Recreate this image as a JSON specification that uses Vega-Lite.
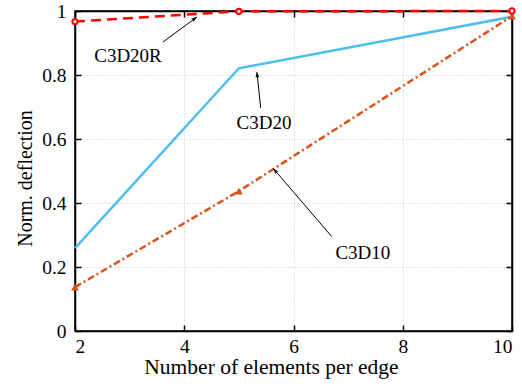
{
  "$schema": "https://vega.github.io/schema/vega-lite/v6.json",
  "width": 437,
  "height": 320,
  "autosize": {"type": "none"},
  "padding": {"left": 75, "top": 11, "right": 10, "bottom": 60},
  "background": "white",
  "config": {
    "view": {"stroke": "black", "strokeWidth": 1.5},
    "font": "Liberation Serif",
    "axis": {
      "labelFont": "Liberation Serif", "titleFont": "Liberation Serif",
      "labelFontSize": 19.5, "titleFontSize": 20, "titleFontWeight": "normal",
      "labelColor": "black", "titleColor": "black",
      "domainColor": "black", "domainWidth": 1.5,
      "tickColor": "black", "tickWidth": 1.5, "tickSize": -6,
      "gridColor": "#c8c8c8", "gridDash": [1, 2], "gridWidth": 1
    }
  },
  "datasets": {
    "series": [
      {"model": "C3D20R", "n": 2, "d": 0.967},
      {"model": "C3D20R", "n": 5, "d": 0.999},
      {"model": "C3D20R", "n": 10, "d": 1.0},
      {"model": "C3D20", "n": 2, "d": 0.259},
      {"model": "C3D20", "n": 5, "d": 0.821},
      {"model": "C3D20", "n": 10, "d": 0.982},
      {"model": "C3D10", "n": 2, "d": 0.137},
      {"model": "C3D10", "n": 5, "d": 0.437},
      {"model": "C3D10", "n": 10, "d": 0.984}
    ],
    "notes": [
      {"label": "C3D20R", "tx": 2.97, "ty": 0.86, "x1": 3.61, "y1": 0.903, "x2": 4.23, "y2": 0.981},
      {"label": "C3D20", "tx": 5.46, "ty": 0.65, "x1": 5.40, "y1": 0.697, "x2": 5.33, "y2": 0.809},
      {"label": "C3D10", "tx": 7.27, "ty": 0.245, "x1": 6.70, "y1": 0.295, "x2": 5.63, "y2": 0.508}
    ]
  },
  "resolve": {"axis": {"x": "independent", "y": "independent"}},
  "layer": [
    {
      "data": {"name": "series"},
      "transform": [{"filter": "datum.model === 'C3D20'"}],
      "mark": {"type": "line", "color": "#4dbeee", "strokeWidth": 2.5},
      "encoding": {
        "x": {"field": "n", "type": "quantitative", "scale": {"domain": [2, 10], "nice": false},
          "axis": {"values": [2, 4, 6, 8, 10], "format": "d", "title": "Number of elements per edge", "titleFontSize": 21.5, "titleX": 196, "grid": true, "labelPadding": 12, "titlePadding": 1}},
        "y": {"field": "d", "type": "quantitative", "scale": {"domain": [0, 1], "nice": false},
          "axis": {"values": [0, 0.2, 0.4, 0.6, 0.8, 1], "format": "~g", "title": "Norm. deflection", "titleY": 167, "grid": true, "labelPadding": 15, "titlePadding": 6}}
      }
    },
    {
      "data": {"name": "series"},
      "transform": [{"filter": "datum.model === 'C3D10'"}],
      "mark": {"type": "line", "color": "#d95319", "strokeWidth": 2.5, "strokeDash": [7, 3, 2, 3]},
      "encoding": {
        "x": {"field": "n", "type": "quantitative", "axis": {"orient": "top", "labels": false, "title": null, "grid": false, "values": [2, 4, 6, 8, 10]}},
        "y": {"field": "d", "type": "quantitative", "axis": {"orient": "right", "labels": false, "title": null, "grid": false, "values": [0, 0.2, 0.4, 0.6, 0.8, 1]}}
      }
    },
    {
      "data": {"name": "series"},
      "transform": [{"filter": "datum.model === 'C3D10'"}],
      "mark": {"type": "point", "shape": "triangle-up", "filled": true, "color": "#d95319", "size": 60, "opacity": 1},
      "encoding": {
        "x": {"field": "n", "type": "quantitative", "axis": null},
        "y": {"field": "d", "type": "quantitative", "axis": null}
      }
    },
    {
      "data": {"name": "series"},
      "transform": [{"filter": "datum.model === 'C3D20R'"}],
      "mark": {"type": "line", "color": "#ff0000", "strokeWidth": 2.5, "strokeDash": [10, 6]},
      "encoding": {
        "x": {"field": "n", "type": "quantitative", "axis": null},
        "y": {"field": "d", "type": "quantitative", "axis": null}
      }
    },
    {
      "data": {"name": "series"},
      "transform": [{"filter": "datum.model === 'C3D20R'"}],
      "mark": {"type": "point", "shape": "circle", "filled": true, "fill": "white", "stroke": "#ff0000", "strokeWidth": 2, "size": 28, "opacity": 1},
      "encoding": {
        "x": {"field": "n", "type": "quantitative", "axis": null},
        "y": {"field": "d", "type": "quantitative", "axis": null}
      }
    },
    {
      "data": {"name": "notes"},
      "mark": {"type": "rule", "color": "black", "strokeWidth": 1},
      "encoding": {
        "x": {"field": "x1", "type": "quantitative", "axis": null},
        "y": {"field": "y1", "type": "quantitative", "axis": null},
        "x2": {"field": "x2"},
        "y2": {"field": "y2"}
      }
    },
    {
      "data": {"name": "notes"},
      "transform": [{"filter": "datum.label === 'C3D20R'"}],
      "mark": {"type": "point", "shape": "M0,0L-0.45,1.3L0,1L0.45,1.3Z", "filled": true, "color": "black", "size": 80, "opacity": 1, "angle": 54},
      "encoding": {
        "x": {"field": "x2", "type": "quantitative", "axis": null},
        "y": {"field": "y2", "type": "quantitative", "axis": null}
      }
    },
    {
      "data": {"name": "notes"},
      "transform": [{"filter": "datum.label === 'C3D20'"}],
      "mark": {"type": "point", "shape": "M0,0L-0.45,1.3L0,1L0.45,1.3Z", "filled": true, "color": "black", "size": 80, "opacity": 1, "angle": -6},
      "encoding": {
        "x": {"field": "x2", "type": "quantitative", "axis": null},
        "y": {"field": "y2", "type": "quantitative", "axis": null}
      }
    },
    {
      "data": {"name": "notes"},
      "transform": [{"filter": "datum.label === 'C3D10'"}],
      "mark": {"type": "point", "shape": "M0,0L-0.45,1.3L0,1L0.45,1.3Z", "filled": true, "color": "black", "size": 80, "opacity": 1, "angle": -40},
      "encoding": {
        "x": {"field": "x2", "type": "quantitative", "axis": null},
        "y": {"field": "y2", "type": "quantitative", "axis": null}
      }
    },
    {
      "data": {"name": "notes"},
      "mark": {"type": "text", "font": "Liberation Serif", "fontSize": 19, "color": "black", "align": "center", "baseline": "middle"},
      "encoding": {
        "x": {"field": "tx", "type": "quantitative", "axis": null},
        "y": {"field": "ty", "type": "quantitative", "axis": null},
        "text": {"field": "label"}
      }
    }
  ]
}
